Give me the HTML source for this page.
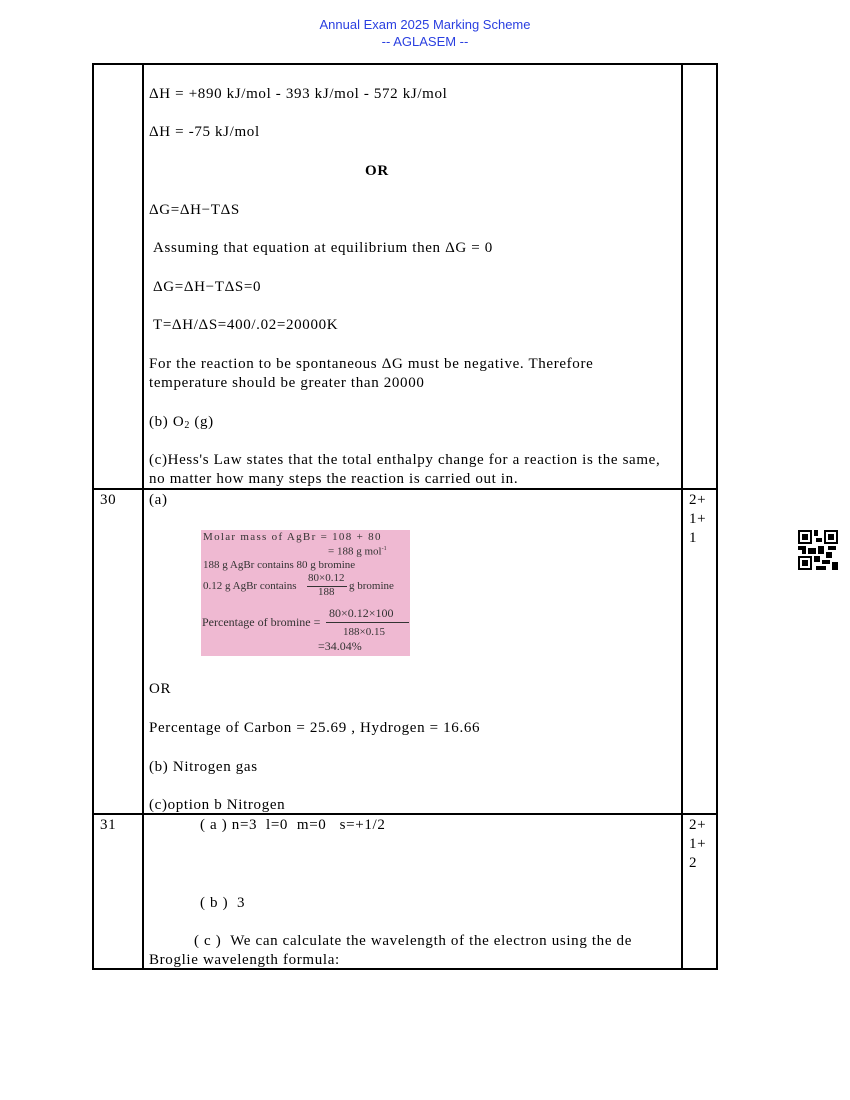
<!DOCTYPE html>
<html><head><meta charset="utf-8"><style>
body{margin:0;background:#fff;}
#p{position:relative;width:850px;height:1100px;overflow:hidden;font-family:"Liberation Serif",serif;font-size:15px;color:#000;}
.t{position:absolute;white-space:nowrap;line-height:19px;letter-spacing:0.65px;}
.l{position:absolute;background:#000;}
.h{position:absolute;left:0;width:850px;text-align:center;font-family:"Liberation Sans",sans-serif;font-size:13px;color:#2a3fe0;}
.im .t{letter-spacing:0;}
</style></head><body><div id="p">
<div class="h" style="top:17px">Annual Exam 2025 Marking Scheme</div>
<div class="h" style="top:34px">-- AGLASEM --</div>

<div class="l" style="left:92px;top:63px;width:626px;height:1.5px"></div>
<div class="l" style="left:92px;top:488px;width:626px;height:1.5px"></div>
<div class="l" style="left:92px;top:813px;width:626px;height:1.5px"></div>
<div class="l" style="left:92px;top:968px;width:626px;height:1.5px"></div>
<div class="l" style="left:92px;top:63px;width:1.5px;height:906px"></div>
<div class="l" style="left:142px;top:63px;width:1.5px;height:906px"></div>
<div class="l" style="left:681px;top:63px;width:1.5px;height:906px"></div>
<div class="l" style="left:716px;top:63px;width:1.5px;height:906px"></div>

<div class="t" style="left:149px;top:85px">ΔH = +890 kJ/mol - 393 kJ/mol - 572 kJ/mol</div>
<div class="t" style="left:149px;top:123px">ΔH = -75 kJ/mol</div>
<div class="t" style="left:365px;top:162px;font-weight:bold">OR</div>
<div class="t" style="left:149px;top:201px">ΔG=ΔH−TΔS</div>
<div class="t" style="left:153px;top:239px">Assuming that equation at equilibrium then ΔG = 0</div>
<div class="t" style="left:153px;top:278px">ΔG=ΔH−TΔS=0</div>
<div class="t" style="left:153px;top:316px">T=ΔH/ΔS=400/.02=20000K</div>
<div class="t" style="left:149px;top:355px">For the reaction to be spontaneous ΔG must be negative. Therefore</div>
<div class="t" style="left:149px;top:374px">temperature should be greater than 20000</div>
<div class="t" style="left:149px;top:413px">(b) O<span style="font-size:10px;vertical-align:-2px">2</span> (g)</div>
<div class="t" style="left:149px;top:451px">(c)Hess's Law states that the total enthalpy change for a reaction is the same,</div>
<div class="t" style="left:149px;top:470px">no matter how many steps the reaction is carried out in.</div>

<div class="t" style="left:100px;top:491px">30</div>
<div class="t" style="left:149px;top:491px">(a)</div>
<div class="t" style="left:689px;top:491px">2+</div>
<div class="t" style="left:689px;top:510px">1+</div>
<div class="t" style="left:689px;top:529px">1</div>
<div class="im" style="position:absolute;left:201px;top:530px;width:209px;height:126px;background:#efb9d2;font-size:11px;color:#333;">
<div class="t" style="left:2px;top:1px;letter-spacing:1.3px;line-height:13px">Molar mass of AgBr = 108 + 80</div>
<div class="t" style="left:127px;top:13px;line-height:13px">= 188 g mol<sup style="font-size:6px">-1</sup></div>
<div class="t" style="left:2px;top:29px;line-height:13px">188 g AgBr contains 80 g bromine</div>
<div class="t" style="left:2px;top:50px;line-height:13px">0.12 g AgBr contains</div>
<div class="t" style="left:107px;top:42px;line-height:12px">80×0.12</div>
<div style="position:absolute;left:106px;top:56px;width:40px;height:1px;background:#333"></div>
<div class="t" style="left:117px;top:56px;line-height:12px">188</div>
<div class="t" style="left:148px;top:50px;line-height:13px">g bromine</div>
<div class="t" style="left:1px;top:86px;line-height:13px;font-size:12px">Percentage of bromine =</div>
<div class="t" style="left:128px;top:77px;line-height:12px;font-size:12px">80×0.12×100</div>
<div style="position:absolute;left:125px;top:92px;width:83px;height:1px;background:#333"></div>
<div class="t" style="left:142px;top:96px;line-height:12px">188×0.15</div>
<div class="t" style="left:117px;top:110px;line-height:13px;font-size:12px">=34.04%</div>
</div>
<div class="t" style="left:149px;top:680px">OR</div>
<div class="t" style="left:149px;top:719px">Percentage of Carbon = 25.69 , Hydrogen = 16.66</div>
<div class="t" style="left:149px;top:758px">(b) Nitrogen gas</div>
<div class="t" style="left:149px;top:796px">(c)option b Nitrogen</div>

<div class="t" style="left:100px;top:816px">31</div>
<div class="t" style="left:200px;top:816px">( a ) n=3 &nbsp;l=0 &nbsp;m=0 &nbsp; s=+1/2</div>
<div class="t" style="left:689px;top:816px">2+</div>
<div class="t" style="left:689px;top:835px">1+</div>
<div class="t" style="left:689px;top:854px">2</div>
<div class="t" style="left:200px;top:894px">( b ) &nbsp;3</div>
<div class="t" style="left:194px;top:932px">( c ) &nbsp;We can calculate the wavelength of the electron using the de</div>
<div class="t" style="left:149px;top:951px">Broglie wavelength formula:</div>

<svg style="position:absolute;left:798px;top:530px" width="40" height="40" viewBox="0 0 20 20" shape-rendering="crispEdges">
<rect x="0" y="0" width="7" height="7" fill="#000"/><rect x="1" y="1" width="5" height="5" fill="#fff"/><rect x="2" y="2" width="3" height="3" fill="#000"/>
<rect x="13" y="0" width="7" height="7" fill="#000"/><rect x="14" y="1" width="5" height="5" fill="#fff"/><rect x="15" y="2" width="3" height="3" fill="#000"/>
<rect x="0" y="13" width="7" height="7" fill="#000"/><rect x="1" y="14" width="5" height="5" fill="#fff"/><rect x="2" y="15" width="3" height="3" fill="#000"/>
<rect x="8" y="0" width="2" height="3" fill="#000"/><rect x="9" y="4" width="3" height="2" fill="#000"/><rect x="0" y="8" width="4" height="2" fill="#000"/>
<rect x="5" y="9" width="4" height="3" fill="#000"/><rect x="10" y="8" width="3" height="4" fill="#000"/><rect x="15" y="8" width="4" height="2" fill="#000"/>
<rect x="14" y="11" width="3" height="3" fill="#000"/><rect x="8" y="13" width="3" height="3" fill="#000"/><rect x="12" y="15" width="4" height="2" fill="#000"/>
<rect x="17" y="16" width="3" height="4" fill="#000"/><rect x="9" y="18" width="5" height="2" fill="#000"/><rect x="2" y="10" width="2" height="2" fill="#000"/>
</svg>
</div></body></html>
